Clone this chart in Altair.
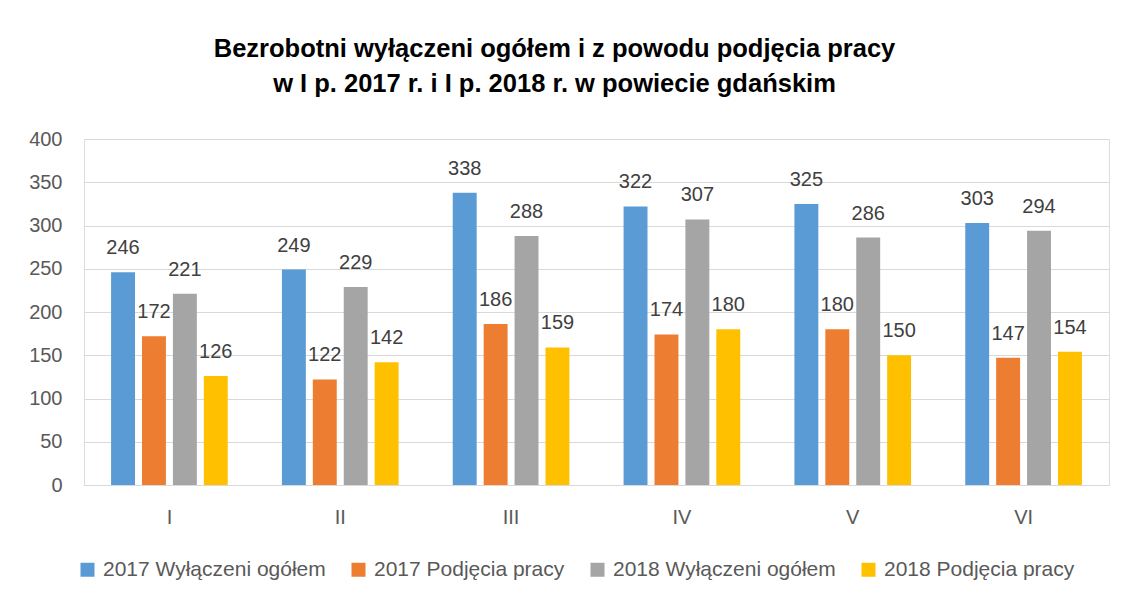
import altair as alt
import pandas as pd

months = ["I", "II", "III", "IV", "V", "VI"]
series = ["2017 Wyłączeni ogółem", "2017 Podjęcia pracy", "2018 Wyłączeni ogółem", "2018 Podjęcia pracy"]
colors = ["#5B9BD5", "#ED7D31", "#A5A5A5", "#FFC000"]
v2017_ogolem = [246, 249, 338, 322, 325, 303]
v2017_praca = [172, 122, 186, 174, 180, 147]
v2018_ogolem = [221, 229, 288, 307, 286, 294]
v2018_praca = [126, 142, 159, 180, 150, 154]
y_ticks = [0, 50, 100, 150, 200, 250, 300, 350, 400]

rows = []
for s, vals in zip(series, [v2017_ogolem, v2017_praca, v2018_ogolem, v2018_praca]):
    for m, v in zip(months, vals):
        rows.append({"month": m, "series": s, "value": v})
df = pd.DataFrame(rows)

FONT = "Liberation Sans"
TXT = "#595959"

x = alt.X("month:N", sort=months, title=None,
          scale=alt.Scale(paddingInner=0, paddingOuter=0),
          axis=alt.Axis(labelAngle=0, ticks=False, domainColor="#D9D9D9",
                        labelFont=FONT, labelFontSize=20, labelColor=TXT,
                        labelPadding=22))
xo = alt.XOffset("series:N", sort=series,
                 scale=alt.Scale(paddingInner=0.226, paddingOuter=0.876))
y = alt.Y("value:Q", title=None,
          scale=alt.Scale(domain=[0, 400], nice=False),
          axis=alt.Axis(values=y_ticks, domain=False, ticks=False,
                        gridColor="#D9D9D9", labelFont=FONT, labelFontSize=20,
                        labelColor=TXT, labelPadding=22))
color = alt.Color("series:N", sort=series,
                  scale=alt.Scale(domain=series, range=colors),
                  legend=alt.Legend(title=None, orient="none", direction="horizontal",
                                    legendX=-7, legendY=420, columns=4,
                                    symbolType="square", symbolSize=196,
                                    symbolStrokeWidth=0, labelFont=FONT,
                                    labelFontSize=21, labelColor=TXT,
                                    labelOffset=5, columnPadding=22,
                                    labelLimit=400))

base = alt.Chart(df)
bars = base.mark_bar().encode(x=x, xOffset=xo, y=y, color=color)
labels = base.mark_text(baseline="alphabetic", dy=-18, font=FONT, fontSize=20,
                        color="#404040").encode(
    x=x, xOffset=xo, y=y, text=alt.Text("value:Q"))

chart = (bars + labels).properties(
    width=1025, height=346,
    autosize=alt.AutoSizeParams(type="none"),
    padding={"left": 76, "top": 131, "right": 9, "bottom": 107},
    title=alt.Title(["Bezrobotni wyłączeni ogółem i z powodu podjęcia pracy",
                     "w I p. 2017 r. i I p. 2018 r. w powiecie gdańskim"],
                    font=FONT, fontSize=25.5, fontWeight="bold", color="#000000",
                    anchor="middle", dx=-42, offset=32, lineHeight=35),
).configure_view(stroke=None).configure(background="white")

chart.save("out.html", embed_options={"renderer": "svg", "actions": False})
